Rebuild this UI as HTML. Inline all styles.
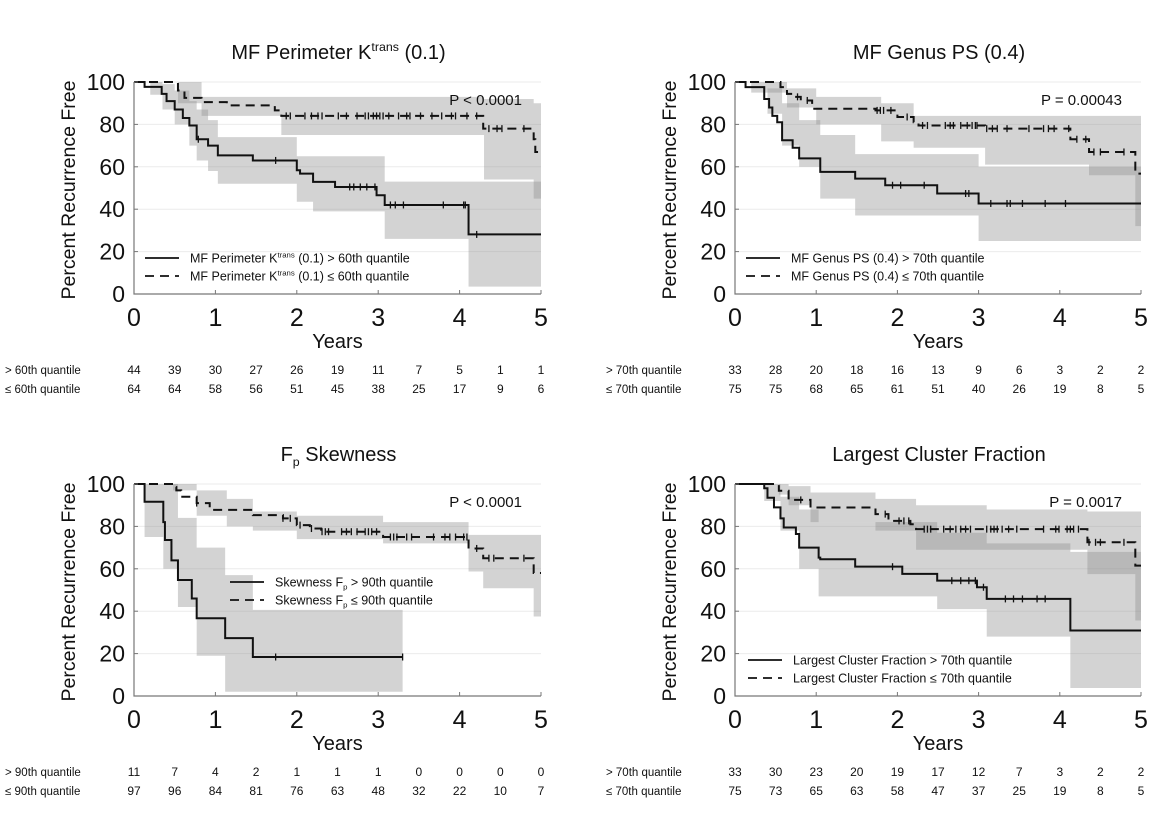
<!DOCTYPE html>
<html><head><meta charset="utf-8"><style>
html,body{margin:0;padding:0;background:#fff;}
svg{display:block;font-family:"Liberation Sans",Arial,sans-serif;}
</style></head><body>
<svg id="chart" width="1172" height="817" viewBox="0 0 1172 817" xmlns="http://www.w3.org/2000/svg"></svg>
<script>
// ---------- data ----------
const yTicks = [0,20,40,60,80,100];
const xTicks = [0,1,2,3,4,5];
const riskTimes = [0,0.5,1,1.5,2,2.5,3,3.5,4,4.5,5];

// Panel 1
const p1HiT = [0,.13,.34,.40,.50,.60,.68,.77,.91,1.03,1.46,2.0,2.04,2.2,2.47,2.98,3.08,4.11];
const p1HiV = [100,97.7,94.4,91,87,83,79.5,73,70,65.4,63,58.4,56.8,52.9,50.5,46.6,42,28.1];
const p1HiBT = [0,.2,.35,.5,.68,.77,.91,1.03,2.0,2.2,3.08,4.11];
const p1HiBU = [100,100,99,96,91,87,82,74,65,65,53,53];
const p1HiBL = [100,94,87,80,70,63,58,52,43.5,39,26,3.5];
const p1HiC = [.79,1.74,2.65,2.70,2.78,2.86,2.96,3.15,3.21,3.31,3.80,4.05,4.07,4.21];
const p1LoT = [0,.54,.62,.83,1.14,1.73,1.81,4.29,4.91,4.93];
const p1LoV = [100,96,92.5,90.5,89,86.6,84,78,73,67];
const p1LoBT = [0,.54,.83,1.81,4.3,4.91];
const p1LoBU = [100,100,93,93,92,90];
const p1LoBL = [100,90,84,75,54,45];
const p1LoC = [1.87,1.92,2.10,2.18,2.26,2.31,2.51,2.61,2.74,2.84,2.88,2.94,2.98,3.02,3.06,3.13,3.25,3.35,3.39,3.52,3.66,3.78,3.90,3.95,4.09,4.21,4.36,4.46,4.52,4.79];
const p1RiskHi = [44,39,30,27,26,19,11,7,5,1,1];
const p1RiskLo = [64,64,58,56,51,45,38,25,17,9,6];

// Panel 2
const p2HiT = [0,.13,.36,.42,.46,.52,.58,.71,.79,1.05,1.48,1.85,2.49,3.0];
const p2HiV = [100,97.6,92,88,84,81,72.5,69,64,57.6,54.4,51.3,47.4,42.7];
const p2HiBT = [0,.2,.4,.58,.79,1.05,1.48,3.0];
const p2HiBU = [100,100,97,90,82,75,66,60];
const p2HiBL = [100,95,85,70,60,45,37,25];
const p2HiC = [1.94,2.04,2.33,2.84,2.88,3.15,3.35,3.39,3.54,3.82,4.07];
const p2LoT = [0,.56,.64,.73,.81,.95,1.73,2.0,2.2,2.26,3.08,4.13,4.36,4.93];
const p2LoV = [100,97.6,94.4,93,91.3,87.4,86.6,83.5,81,79.5,78,73,67,56.8];
const p2LoBT = [0,.4,.64,1.0,1.8,2.2,3.08,4.13,4.36,4.93];
const p2LoBU = [100,100,97,93,90,84,84,84,84,84];
const p2LoBL = [100,95,88,80,72,69,61,61,56,32];
const p2LoC = [.77,.89,1.75,1.79,1.83,1.92,2.12,2.31,2.37,2.59,2.65,2.69,2.78,2.86,2.92,2.96,2.98,3.10,3.17,3.23,3.35,3.62,3.80,3.86,3.93,4.11,4.21,4.32,4.42,4.50,4.79];
const p2RiskHi = [33,28,20,18,16,13,9,6,3,2,2];
const p2RiskLo = [75,75,68,65,61,51,40,26,19,8,5];

// Panel 3
const p3HiT = [0,.13,.36,.38,.46,.54,.71,.77,1.12,1.46];
const p3HiV = [100,91.6,82,73.6,64,54.7,46,36.7,27.3,18.4];
const p3HiBT = [0,.13,.36,.54,.77,1.12,1.46];
const p3HiBU = [100,100,100,84,70,57,40.6];
const p3HiBL = [100,75,60,42,19,2,2];
const p3HiC = [1.74,3.30];
const p3LoT = [0,.48,.52,.58,.77,.93,1.46,1.83,2.0,2.16,2.3,3.06,4.11,4.29,4.91];
const p3LoV = [100,98.5,97,94,91,87.8,85.3,83.8,80.6,79,77.5,75,69.6,65,58];
const p3LoBT = [0,.48,.77,1.14,1.46,2.0,3.06,4.11,4.29,4.91];
const p3LoBU = [100,100,97,93,87,85,82,76,76,76];
const p3LoBL = [100,97,85,80,78,74,72,58.7,50.8,37.5];
const p3LoC = [.77,1.83,1.92,2.04,2.18,2.31,2.35,2.39,2.55,2.61,2.67,2.74,2.84,2.88,2.92,2.98,3.15,3.19,3.23,3.35,3.41,3.68,3.82,3.88,3.95,4.05,4.09,4.21,4.36,4.42,4.79];
const p3RiskHi = [11,7,4,2,1,1,1,0,0,0,0];
const p3RiskLo = [97,96,84,81,76,63,48,32,22,10,7];

// Panel 4
const p4HiT = [0,.36,.40,.48,.56,.60,.75,.79,1.03,1.05,1.48,2.06,2.49,2.98,3.1,4.13];
const p4HiV = [100,98,93.5,89,83.8,79.5,76.4,70,65.3,64.5,61,57.6,54.4,51.3,45.8,30.9];
const p4HiBT = [0,.36,.56,.79,1.03,2.49,3.1,4.13];
const p4HiBU = [100,100,94,88,82,77,72,68];
const p4HiBL = [100,92,78,60,47,41,28,3.8];
const p4HiC = [1.94,2.67,2.78,2.88,2.96,3.06,3.33,3.43,3.54,3.72,3.82];
const p4LoT = [0,.54,.66,.93,1.73,1.89,2.16,2.23,4.34,4.93];
const p4LoV = [100,96.8,92.5,88.9,85.8,82.6,81,78.7,72.5,61.5];
const p4LoBT = [0,.54,.66,.93,1.73,2.23,3.1,4.34,4.93];
const p4LoBU = [100,100,99,96,93,90,88,87,87];
const p4LoBL = [100,95,90,82,78,69,69,57.5,35.6];
const p4LoC = [.81,1.85,2.02,2.08,2.14,2.33,2.37,2.41,2.57,2.65,2.72,2.78,2.84,2.90,3.10,3.15,3.19,3.23,3.29,3.37,3.47,3.80,3.95,3.99,4.09,4.13,4.17,4.23,4.36,4.44,4.50,4.79];
const p4RiskHi = [33,30,23,20,19,17,12,7,3,2,2];
const p4RiskLo = [75,73,65,63,58,47,37,25,19,8,5];

// ---------- drawing ----------
const NS = "http://www.w3.org/2000/svg";
const svg = document.getElementById('chart');
function mk(tag, attrs, parent){
  const e = document.createElementNS(NS, tag);
  for (const k in attrs) e.setAttribute(k, attrs[k]);
  (parent||svg).appendChild(e);
  return e;
}
function stepVal(T,V,t){let v=V[0];for(let i=0;i<T.length;i++){if(T[i]<=t)v=V[i];}return v;}

const panels = [
  {id:'p1', x0:134, x1:541, yTop:82, yBot:294, title:[['MF Perimeter K',0],['trans',1],[' (0.1)',0]], pval:'P < 0.0001', pvx:522,
   hi:[p1HiT,p1HiV,p1HiBT,p1HiBU,p1HiBL,p1HiC,5], lo:[p1LoT,p1LoV,p1LoBT,p1LoBU,p1LoBL,p1LoC,5],
   leg:[[['MF Perimeter K',0],['trans',1],[' (0.1) > 60th quantile',0]],[['MF Perimeter K',0],['trans',1],[' (0.1) ≤ 60th quantile',0]]], legX:145, legY:258,
   rl:['> 60th quantile','≤ 60th quantile'], rh:p1RiskHi, rlo:p1RiskLo, labX:5, ry:374},
  {id:'p2', x0:735, x1:1141, yTop:82, yBot:294, title:[['MF Genus PS (0.4)',0]], pval:'P  = 0.00043', pvx:1122,
   hi:[p2HiT,p2HiV,p2HiBT,p2HiBU,p2HiBL,p2HiC,5], lo:[p2LoT,p2LoV,p2LoBT,p2LoBU,p2LoBL,p2LoC,5],
   leg:[[['MF Genus PS (0.4) > 70th quantile',0]],[['MF Genus PS (0.4) ≤ 70th quantile',0]]], legX:746, legY:258,
   rl:['> 70th quantile','≤ 70th quantile'], rh:p2RiskHi, rlo:p2RiskLo, labX:606, ry:374},
  {id:'p3', x0:134, x1:541, yTop:484, yBot:696, title:[['F',0],['p',-1],[' Skewness',0]], pval:'P < 0.0001', pvx:522,
   hi:[p3HiT,p3HiV,p3HiBT,p3HiBU,p3HiBL,p3HiC,3.3], lo:[p3LoT,p3LoV,p3LoBT,p3LoBU,p3LoBL,p3LoC,5],
   leg:[[['Skewness F',0],['p',-1],[' > 90th quantile',0]],[['Skewness F',0],['p',-1],[' ≤ 90th quantile',0]]], legX:230, legY:582,
   rl:['> 90th quantile','≤ 90th quantile'], rh:p3RiskHi, rlo:p3RiskLo, labX:5, ry:776},
  {id:'p4', x0:735, x1:1141, yTop:484, yBot:696, title:[['Largest Cluster Fraction',0]], pval:'P  = 0.0017', pvx:1122,
   hi:[p4HiT,p4HiV,p4HiBT,p4HiBU,p4HiBL,p4HiC,5], lo:[p4LoT,p4LoV,p4LoBT,p4LoBU,p4LoBL,p4LoC,5],
   leg:[[['Largest Cluster Fraction > 70th quantile',0]],[['Largest Cluster Fraction ≤ 70th quantile',0]]], legX:748, legY:660,
   rl:['> 70th quantile','≤ 70th quantile'], rh:p4RiskHi, rlo:p4RiskLo, labX:606, ry:776}
];

function richText(parent, parts, x, y, size, anchor){
  const t = mk('text',{x:x,y:y,'font-size':size,'text-anchor':anchor||'start',fill:'#111'},parent);
  let shift=0;
  parts.forEach(p=>{
    const sp = document.createElementNS(NS,'tspan');
    let target = p[1]===1 ? -size*0.4 : (p[1]===-1 ? size*0.25 : 0);
    sp.setAttribute('dy', target-shift); shift=target;
    if (p[1]!==0) sp.setAttribute('font-size', size*0.62);
    sp.textContent = p[0];
    t.appendChild(sp);
  });
  return t;
}

panels.forEach(P=>{
  const g = mk('g',{});
  
  
  const X = t => P.x0 + (P.x1-P.x0)*t/5;
  const Y = v => P.yBot - (P.yBot-P.yTop)*v/100;
  yTicks.forEach(v=>{
    if(v>0){ const l=mk('line',{x1:P.x0,x2:P.x1,y1:Y(v),y2:Y(v),stroke:'#ebebeb','stroke-width':1},g);
        }
  });
  [P.lo, P.hi].forEach((S,si)=>{
    const [T,V,BT,BU,BL,C,end] = S;
    let d='M'+X(BT[0])+' '+Y(BU[0]);
    for(let i=1;i<BT.length;i++) d+=' H'+X(BT[i])+' V'+Y(BU[i]);
    d+=' H'+X(end)+' V'+Y(BL[BL.length-1]);
    for(let i=BT.length-1;i>=1;i--) d+=' H'+X(BT[i])+' V'+Y(BL[i-1]);
    d+=' H'+X(BT[0])+' Z';
    const b=mk('path',{d:d,fill:'#8c8c8c','fill-opacity':0.38,stroke:'none'},g);
    
    
  });
  [P.lo, P.hi].forEach((S,si)=>{
    const [T,V,BT,BU,BL,C,end] = S;
    let d='M'+X(T[0])+' '+Y(V[0]);
    for(let i=1;i<T.length;i++) d+=' H'+X(T[i])+' V'+Y(V[i]);
    d+=' H'+X(end);
    const attrs={d:d,fill:'none',stroke:'#111','stroke-width':2};
    if(!si) attrs['stroke-dasharray']='9,6';
    const c=mk('path',attrs,g);
    
    
    C.forEach(t=>{
      const v=stepVal(T,V,t);
      const m=mk('line',{x1:X(t),x2:X(t),y1:Y(v)-3.5,y2:Y(v)+3.5,stroke:'#111','stroke-width':1.3},g);
      
      
    });
  });
  const ax=mk('path',{d:'M'+P.x0+' '+(P.yTop)+' V'+P.yBot+' H'+P.x1,fill:'none',stroke:'#777','stroke-width':1.2},g);
   
  xTicks.forEach(t=>{
    const tk=mk('line',{x1:X(t),x2:X(t),y1:P.yBot,y2:P.yBot-4,stroke:'#777','stroke-width':1},g);
     
    const tl=mk('text',{x:X(t),y:P.yBot+32,'font-size':25,'text-anchor':'middle',fill:'#111'},g);
    tl.textContent=t;
     
  });
  yTicks.forEach(v=>{
    const tk=mk('line',{x1:P.x0,x2:P.x0+4,y1:Y(v),y2:Y(v),stroke:'#777','stroke-width':1},g);
     
    const tl=mk('text',{x:P.x0-9,y:Y(v)+8,'font-size':23,'text-anchor':'end',fill:'#111'},g);
    tl.textContent=v;
     
  });
  const xt=mk('text',{x:(P.x0+P.x1)/2,y:P.yBot+54,'font-size':20,'text-anchor':'middle',fill:'#111'},g);
  xt.textContent='Years';
   
  const cy=(P.yTop+P.yBot)/2+2;
  const yt=mk('text',{x:P.x0-64,y:cy,'font-size':19.5,'text-anchor':'middle',fill:'#111',transform:'rotate(-90 '+(P.x0-64)+' '+cy+')'},g);
  yt.setAttribute('dominant-baseline','middle');
  yt.textContent='Percent Recurrence Free';
   
  const ti=richText(g,P.title,(P.x0+P.x1)/2+1,P.yTop-23,20,'middle');
   
  const pv=mk('text',{x:P.pvx,y:P.yTop+23,'font-size':15,'text-anchor':'end',fill:'#111'},g);
  pv.textContent=P.pval;
   
  [0,1].forEach(i=>{
    const ly=P.legY+i*18;
    const la={x1:P.legX,x2:P.legX+34,y1:ly,y2:ly,stroke:'#111','stroke-width':1.8};
    if(i===1) la['stroke-dasharray']='9,6';
    const ll=mk('line',la,g);
     
    const lt=richText(g,P.leg[i],P.legX+45,ly+4.5,12.5,'start');
     
  });
  [P.rh,P.rlo].forEach((arr,ri)=>{
    const yy=P.ry+ri*19;
    const lab=mk('text',{x:P.labX,y:yy,'font-size':11.5,fill:'#111'},g);
    lab.textContent=P.rl[ri];
     
    arr.forEach((n,k)=>{
      const xx=X(riskTimes[k]);
      const tx=mk('text',{x:xx,y:yy,'font-size':12,'text-anchor':'middle',fill:'#111'},g);
      tx.textContent=n;
       
    });
  });
});
</script>
</body></html>
